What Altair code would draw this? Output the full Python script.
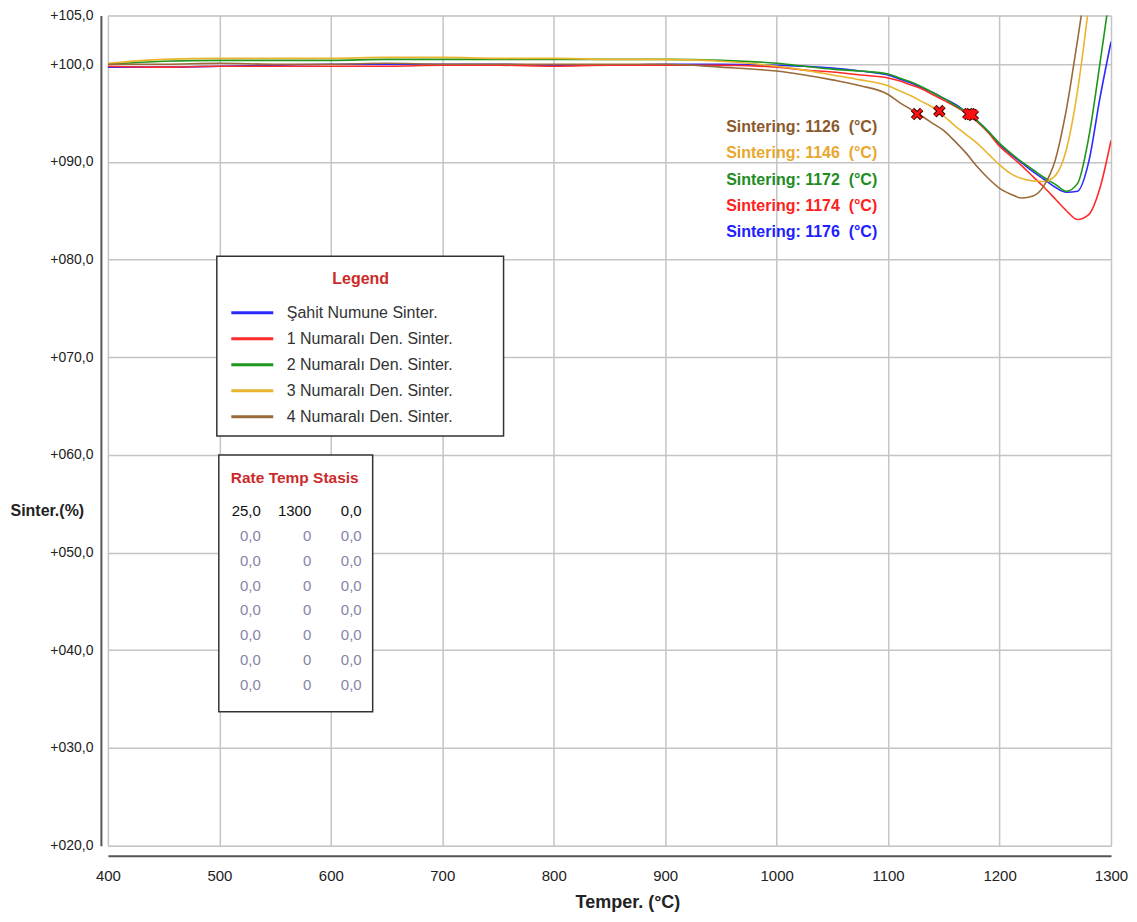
import altair as alt
import pandas as pd

# ---------------- data ----------------
temps = [400, 450, 500, 550, 600, 650, 700, 750, 800, 850, 900, 950, 1000, 1025, 1050, 1075,
         1100, 1110, 1120, 1130, 1140, 1150, 1160, 1170, 1180, 1190, 1200, 1210, 1220, 1230,
         1240, 1250, 1260, 1270, 1280, 1290, 1300]

series_names = ["Şahit Numune Sinter.", "1 Numaralı Den. Sinter.", "2 Numaralı Den. Sinter.",
                "3 Numaralı Den. Sinter.", "4 Numaralı Den. Sinter."]
series_colors = ["#2b2bff", "#ff2b2b", "#1e961e", "#e9b52e", "#9a6a3a"]

sahit = [99.7, 99.7, 99.8, 99.9, 100.0, 100.0, 100.0, 100.0, 99.9, 99.9, 100.0, 100.0, 99.9, 99.8, 99.6, 99.3,
         98.9, 98.5, 98.1, 97.6, 97.1, 96.5, 95.9, 95.1, 94.2, 93.1, 91.8, 90.8, 89.9, 89.0,
         88.2, 87.4, 86.9, 87.0, 90.0, 96.5, 102.3]
den1 = [99.8, 99.7, 99.8, 99.8, 99.8, 99.8, 99.9, 99.9, 99.8, 99.9, 99.9, 99.9, 99.7, 99.4, 99.2, 98.9,
        98.6, 98.3, 97.9, 97.5, 96.9, 96.3, 95.7, 95.0, 94.1, 93.0, 91.6, 90.6, 89.6, 88.5,
        87.4, 86.2, 85.0, 84.1, 84.6, 87.3, 92.2]
den2 = [100.0, 100.3, 100.4, 100.4, 100.4, 100.5, 100.5, 100.5, 100.5, 100.5, 100.5, 100.4, 100.1, 99.8, 99.5, 99.3,
        99.0, 98.6, 98.2, 97.7, 97.1, 96.5, 95.8, 95.1, 94.2, 93.1, 91.9, 90.9, 90.0, 89.2,
        88.4, 87.7, 87.0, 87.8, 92.5, 100.0, 108.0]
den3 = [100.1, 100.5, 100.6, 100.6, 100.6, 100.7, 100.7, 100.6, 100.6, 100.5, 100.5, 100.3, 99.8, 99.4, 98.9, 98.4,
        97.8, 97.3, 96.8, 96.2, 95.6, 94.7, 93.7, 92.8, 91.9, 90.8, 89.7, 88.8, 88.3, 88.05,
        88.0, 88.6, 91.3, 97.3, 106.0, 116.0, 126.0]
den4 = [100.0, 100.0, 100.1, 100.0, 100.0, 100.1, 100.0, 100.0, 100.0, 100.0, 100.0, 99.7, 99.3, 98.9, 98.4, 97.8,
        96.9, 96.1, 95.4, 94.7, 93.95, 93.2, 92.1, 90.9, 89.5, 88.3, 87.3, 86.7, 86.3, 86.5,
        87.6, 90.2, 95.4, 102.5, 110.0, 118.0, 126.0]

# sintering points (in label order)
sinter_series = ["4 Numaralı Den. Sinter.", "3 Numaralı Den. Sinter.", "2 Numaralı Den. Sinter.",
                 "1 Numaralı Den. Sinter.", "Şahit Numune Sinter."]
sinter_temps = [1126, 1146, 1172, 1174, 1176]
sinter_values = [94.9, 95.2, 94.9, 94.9, 94.8]
sinter_text_colors = ["#8b5a2b", "#e8a830", "#1e8c1e", "#ff2020", "#2020ff"]

# program table
table_rate = ["25,0", "0,0", "0,0", "0,0", "0,0", "0,0", "0,0", "0,0"]
table_temp = ["1300", "0", "0", "0", "0", "0", "0", "0"]
table_stasis = ["0,0", "0,0", "0,0", "0,0", "0,0", "0,0", "0,0", "0,0"]

# ---------------- frames ----------------
all_series = [sahit, den1, den2, den3, den4]
rows = []
for name, vals in zip(series_names, all_series):
    for t, v in zip(temps, vals):
        rows.append({"temp": t, "value": v, "series": name})
df = pd.DataFrame(rows)

df_sinter = pd.DataFrame({
    "temp": sinter_temps, "value": sinter_values, "series": sinter_series,
    "i": list(range(len(sinter_temps))), "tcolor": sinter_text_colors,
})

trows = []
for r in range(len(table_rate)):
    for c, col in enumerate([table_rate, table_temp, table_stasis]):
        trows.append({"row": r, "col": c, "txt": col[r]})
df_table = pd.DataFrame(trows)

one = pd.DataFrame({"k": [0]})

W, H = 1004, 831
XMIN, XMAX, YMIN, YMAX = 400, 1300, 20, 105
NARROW = "Liberation Sans Narrow, Liberation Sans, Arial"
SANS = "Liberation Sans, Arial"

X = alt.X("temp:Q", title="Temper. (°C)",
          scale=alt.Scale(domain=[XMIN, XMAX], nice=False, zero=False),
          axis=alt.Axis(values=list(range(400, 1301, 100)), format="d", offset=10, ticks=False,
                        labelFlush=False, labelOverlap=False,
                        labelPadding=13, labelFont=SANS, labelFontSize=15, labelColor="#222",
                        domainColor="#555", domainWidth=2, grid=True, gridColor="#c4c4c4",
                        gridWidth=1.5, titleFont=NARROW, titleFontSize=18, titleFontWeight="bold",
                        titleColor="#222", titlePadding=10, titleX=520))
Y = alt.Y("value:Q", title="Sinter.(%)",
          scale=alt.Scale(domain=[YMIN, YMAX], nice=False, zero=False),
          axis=alt.Axis(values=[20, 30, 40, 50, 60, 70, 80, 90, 100, 105],
                        labelExpr="replace(format(datum.value, '+06.1f'), '.', ',')",
                        labelFlush=False, labelOverlap=False,
                        offset=7, ticks=False, labelPadding=8, labelFont=SANS, labelFontSize=14,
                        labelColor="#222", domainColor="#555", domainWidth=2, grid=True,
                        gridColor="#c4c4c4", gridWidth=1.5, titleAngle=0, titleAlign="left",
                        titleBaseline="middle", titleX=-91, titleY=496, titleFont=NARROW,
                        titleFontSize=16, titleFontWeight="bold", titleColor="#222"))

px2t = f"{XMIN} + ({{px}}) * {(XMAX - XMIN) / W}"
py2v = f"{YMAX} - ({{py}}) * {(YMAX - YMIN) / H}"

lines = alt.Chart(df).mark_line(clip=True, strokeWidth=1.6, interpolate="monotone").encode(
    x=X, y=Y,
    color=alt.Color("series:N", scale=alt.Scale(domain=series_names, range=series_colors),
                    legend=alt.Legend(title=None, orient="none", legendX=122, legendY=285,
                                      symbolType="stroke", symbolSize=1764, symbolStrokeWidth=3,
                                      clipHeight=25.3, rowPadding=0, padding=0, labelOffset=12,
                                      labelFont=SANS, labelFontSize=16, labelColor="#333",
                                      labelLimit=400)),
)

xpath = "M-1,-1L1,1M1,-1L-1,1"
marks_dark = alt.Chart(df_sinter).mark_point(shape=xpath, size=85, strokeWidth=4.8, color="#3a0000",
                                             filled=False, opacity=1).encode(x=X, y=Y)
marks_red = alt.Chart(df_sinter).mark_point(shape=xpath, size=75, strokeWidth=2.8, color="#ff1010",
                                            filled=False, opacity=1).encode(x=X, y=Y)

labels = alt.Chart(df_sinter).transform_calculate(
    lab="'Sintering: ' + datum.temp + '\u00a0\u00a0(°C)'",
).transform_calculate(
    temp=px2t.format(px="770"), value=py2v.format(py="112 + datum.i * 26.2"),
).mark_text(align="right", baseline="middle", font=NARROW, fontSize=16, fontWeight="bold").encode(
    x=X, y=Y, text="lab:N", color=alt.Color("tcolor:N", scale=None),
)

legend_box = alt.Chart(one).mark_rect(fill="white", stroke="#333", strokeWidth=1.5).encode(
    x=alt.value(109), x2=alt.value(396), y=alt.value(241), y2=alt.value(421))
legend_title = alt.Chart(one).mark_text(font=NARROW, fontSize=16, fontWeight="bold",
                                        color="#cc2a2a", baseline="middle").encode(
    x=alt.value(253), y=alt.value(264), text=alt.value("Legend"))

table_box = alt.Chart(one).mark_rect(fill="white", stroke="#333", strokeWidth=1.5).encode(
    x=alt.value(111), x2=alt.value(265), y=alt.value(440), y2=alt.value(697))
table_title = alt.Chart(one).mark_text(font=NARROW, fontSize=15.5, fontWeight="bold",
                                       color="#cc2a2a", baseline="middle").encode(
    x=alt.value(187), y=alt.value(463), text=alt.value("Rate Temp Stasis"))
table_text = alt.Chart(df_table).transform_calculate(
    temp=px2t.format(px="153 + datum.col * 50.5"), value=py2v.format(py="496 + datum.row * 24.9"),
).mark_text(align="right", baseline="middle", font=NARROW, fontSize=15).encode(
    x=X, y=Y, text="txt:N",
    color=alt.condition("datum.row == 0", alt.value("#111111"), alt.value("#8585a8")),
)

chart = alt.layer(
    lines, marks_dark, marks_red, labels, legend_box, legend_title, table_box, table_title, table_text
).properties(
    width=W, height=H,
    autosize=alt.AutoSizeParams(type="none"),
    padding={"left": 100, "top": 7, "right": 18, "bottom": 66},
).configure_view(stroke="#aaaaaa", strokeWidth=2).configure(background="white")

chart.save("out.html", embed_options={"renderer": "svg", "actions": False})
